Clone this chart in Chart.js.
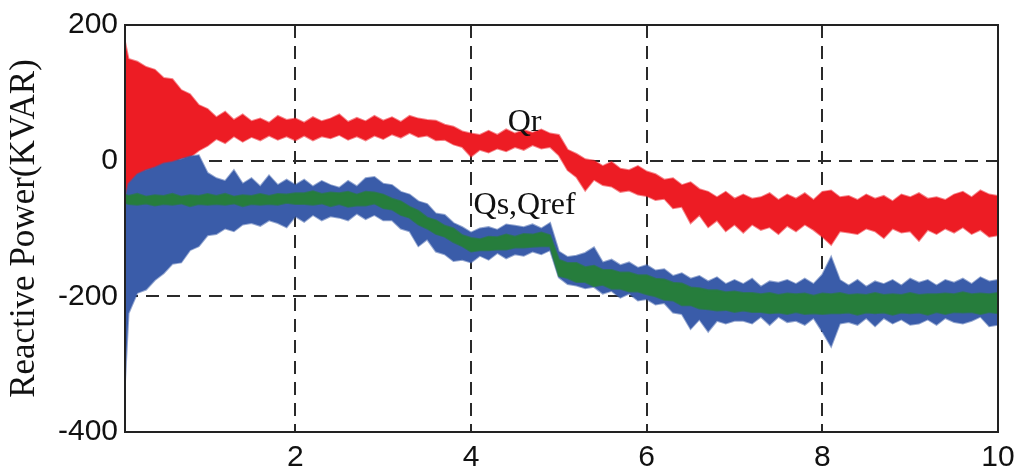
<!DOCTYPE html>
<html>
<head>
<meta charset="utf-8">
<script src="https://cdn.jsdelivr.net/npm/chart.js@4.4.1/dist/chart.umd.min.js"></script>
<style>
html, body { margin: 0; padding: 0; background: #fff; }
#wrap { width: 1029px; height: 474px; }
</style>
</head>
<body>
<div id="wrap"><canvas id="chart" width="1029" height="474"></canvas></div>
<script>
// time grid (s): first sample at the left edge, then every 0.1 s
const time = [0.06].concat(Array.from({ length: 100 }, (_, i) => +((i + 1) / 10).toFixed(1)));

// Qr band (upper / lower edge of the noisy trace), KVAR
const qrUpper = [175,
  150, 146, 138, 134, 122, 120, 104, 98, 82, 76,
  64, 72, 60, 68, 58, 62, 56, 66, 60, 62,
  56, 64, 58, 62, 68, 57, 63, 58, 66, 59,
  64, 57, 66, 62, 60, 59, 53, 50, 43, 40,
  38, 44, 38, 46, 40, 45, 41, 46, 40, 38,
  16, 10, 2, 0, -8, -2, -12, -14, -8, -16,
  -20, -28, -26, -36, -32, -42, -46, -54, -46, -56,
  -50, -56, -54, -48, -58, -50, -56, -48, -58, -46,
  -44, -54, -52, -58, -50, -56, -52, -60, -50, -54,
  -48, -56, -54, -58, -50, -46, -54, -44, -50, -52];
const qrLower = [-56,
  -42, -24, -14, -11, -5, -3, 3, 5, 15, 22,
  32, 26, 36, 28, 35, 30, 37, 31, 36, 30,
  37, 30, 36, 33, 38, 31, 36, 30, 37, 32,
  39, 34, 41, 35, 37, 30, 31, 24, 20, 6,
  16, 12, 18, 14, 20, 16, 23, 18, 20, 8,
  -14, -24, -44, -28, -36, -38, -46, -44, -50, -52,
  -58, -56, -70, -68, -92, -80, -98, -88, -104, -94,
  -106, -94, -102, -98, -108, -96, -104, -94, -102, -112,
  -124, -104, -106, -108, -100, -104, -114, -100, -106, -104,
  -118, -102, -108, -100, -106, -98, -108, -102, -112, -110];

// Qs band
const qsUpper = [-56,
  -34, -20, -14, -10, -4, -2, 2, 6, 8, -18,
  -26, -30, -14, -34, -26, -38, -22, -36, -28, -36,
  -28, -38, -30, -36, -40, -30, -38, -26, -24, -34,
  -36, -46, -50, -60, -64, -78, -80, -92, -98, -106,
  -100, -98, -102, -94, -96, -98, -94, -100, -92, -134,
  -142, -140, -136, -128, -150, -146, -154, -150, -158, -154,
  -162, -160, -170, -166, -174, -170, -178, -172, -182, -176,
  -182, -174, -186, -178, -180, -176, -182, -174, -182, -168,
  -142, -176, -184, -176, -186, -178, -182, -176, -184, -174,
  -180, -176, -184, -176, -180, -174, -182, -172, -178, -176];
const qsLower = [-325,
  -225, -195, -190, -176, -166, -152, -150, -132, -126, -110,
  -108, -100, -104, -94, -92, -96, -88, -92, -98, -82,
  -90, -80, -88, -82, -84, -88, -78, -86, -80, -88,
  -88, -100, -104, -126, -116, -134, -138, -148, -146, -150,
  -140, -146, -136, -144, -138, -140, -134, -138, -132, -172,
  -182, -184, -188, -186, -196, -192, -202, -196, -206, -204,
  -212, -210, -224, -226, -248, -234, -252, -236, -240, -236,
  -236, -240, -230, -242, -230, -238, -236, -242, -232, -252,
  -274, -240, -238, -242, -232, -244, -232, -240, -234, -242,
  -240, -234, -242, -232, -238, -240, -236, -230, -244, -242];

// Qref band
const qrefUpper = [-50,
  -52, -49, -53, -51, -52, -49, -53, -51, -52, -49,
  -52, -49, -53, -51, -52, -49, -52, -49, -50, -48,
  -48, -45, -49, -47, -48, -46, -50, -46, -47, -50,
  -56, -60, -68, -74, -84, -88, -96, -100, -110, -114,
  -116, -112, -113, -109, -112, -108, -109, -106, -110, -146,
  -151, -151, -157, -155, -161, -161, -165, -165, -169, -169,
  -174, -175, -180, -181, -187, -188, -191, -191, -194, -193,
  -195, -195, -197, -195, -198, -196, -197, -196, -199, -196,
  -197, -195, -198, -197, -198, -195, -198, -197, -198, -195,
  -198, -197, -197, -196, -197, -194, -197, -196, -197, -195];
const qrefLower = [-62,
  -64, -65, -63, -66, -64, -65, -63, -67, -64, -65,
  -64, -65, -63, -67, -64, -65, -64, -65, -62, -64,
  -64, -65, -63, -67, -64, -68, -66, -66, -63, -70,
  -72, -80, -84, -94, -100, -108, -112, -120, -126, -134,
  -132, -132, -131, -131, -128, -128, -127, -126, -126, -170,
  -173, -179, -179, -185, -183, -189, -189, -193, -193, -197,
  -200, -205, -206, -213, -213, -218, -219, -221, -220, -223,
  -221, -223, -223, -225, -224, -226, -223, -226, -225, -226,
  -225, -225, -224, -227, -224, -225, -224, -227, -224, -225,
  -224, -227, -223, -226, -223, -224, -223, -226, -223, -225];

// axis ticks
const xTicks = [2, 4, 6, 8, 10];
const yTicks = [-400, -200, 0, 200];

// curve labels
const noteText = ['Qr', 'Qs,Qref'];
const noteX = [4.61, 4.61];
const noteY = [56, -66];

const RED = '#ed1c24';
const BLUE = '#3a5ca9';
const GREEN = '#267d3c';
const RED_EDGE = 'rgba(237,28,36,0.55)';
const BLUE_EDGE = 'rgba(58,92,169,0.55)';
const GREEN_EDGE = 'rgba(38,125,60,0.7)';

function pts(arr) {
  return arr.map((v, i) => ({ x: time[i], y: v }));
}

function band(label, upper, lower, color, edge) {
  return [
    { label: label, data: pts(upper), borderColor: edge, backgroundColor: color,
      borderWidth: 2, pointRadius: 0, fill: '+1' },
    { label: label + ' low', data: pts(lower), borderColor: edge, backgroundColor: color,
      borderWidth: 2, pointRadius: 0, fill: false }
  ];
}

// frame + curve names
const decor = {
  id: 'decor',
  afterDatasetsDraw(chart) {
    const { ctx, chartArea: a, scales } = chart;
    ctx.save();
    ctx.strokeStyle = '#222';
    ctx.lineWidth = 2;
    ctx.strokeRect(a.left, a.top, a.right - a.left, a.bottom - a.top);
    ctx.fillStyle = '#111';
    ctx.font = '32px "Liberation Serif", "Times New Roman", serif';
    ctx.textAlign = 'center';
    ctx.textBaseline = 'middle';
    noteText.forEach((t, i) => {
      ctx.fillText(t, scales.x.getPixelForValue(noteX[i]), scales.y.getPixelForValue(noteY[i]));
    });
    ctx.restore();
  }
};

const tickFont = { family: '"Liberation Sans", Arial, sans-serif', size: 30 };

function gridColor(edges) {
  return c => (c.tick && edges.includes(c.tick.value)) ? 'rgba(0,0,0,0)' : '#2a2a2a';
}

new Chart(document.getElementById('chart'), {
  type: 'line',
  data: {
    datasets: [].concat(
      band('Qref', qrefUpper, qrefLower, GREEN, GREEN_EDGE),
      band('Qs', qsUpper, qsLower, BLUE, BLUE_EDGE),
      band('Qr', qrUpper, qrLower, RED, RED_EDGE)
    )
  },
  options: {
    responsive: false,
    animation: false,
    devicePixelRatio: 1,
    layout: { padding: { left: 0, right: 31, top: 23, bottom: 0 } },
    plugins: { legend: { display: false }, tooltip: { enabled: false } },
    elements: { line: { tension: 0 } },
    scales: {
      x: {
        type: 'linear', min: 0.06, max: 10,
        afterBuildTicks: s => { s.ticks = xTicks.map(v => ({ value: v })); },
        afterFit: s => { s.height = 42; },
        ticks: { font: tickFont, color: '#111', padding: 8, maxRotation: 0, autoSkip: false },
        grid: { color: gridColor([10]), lineWidth: 2, drawTicks: false },
        border: { display: false, dash: [13, 8] }
      },
      y: {
        min: -400, max: 200,
        afterBuildTicks: s => { s.ticks = yTicks.map(v => ({ value: v })); },
        afterFit: s => { s.width = 125; },
        ticks: { font: tickFont, color: '#111', padding: 7 },
        grid: { color: gridColor([-400, 200]), lineWidth: 2, drawTicks: false },
        border: { display: false, dash: [13, 8] },
        title: {
          display: true, text: 'Reactive Power(KVAR)', color: '#111',
          font: { family: '"Liberation Serif", "Times New Roman", serif', size: 35 },
          padding: { top: 4, bottom: 0 }
        }
      }
    }
  },
  plugins: [decor]
});
</script>
</body>
</html>
